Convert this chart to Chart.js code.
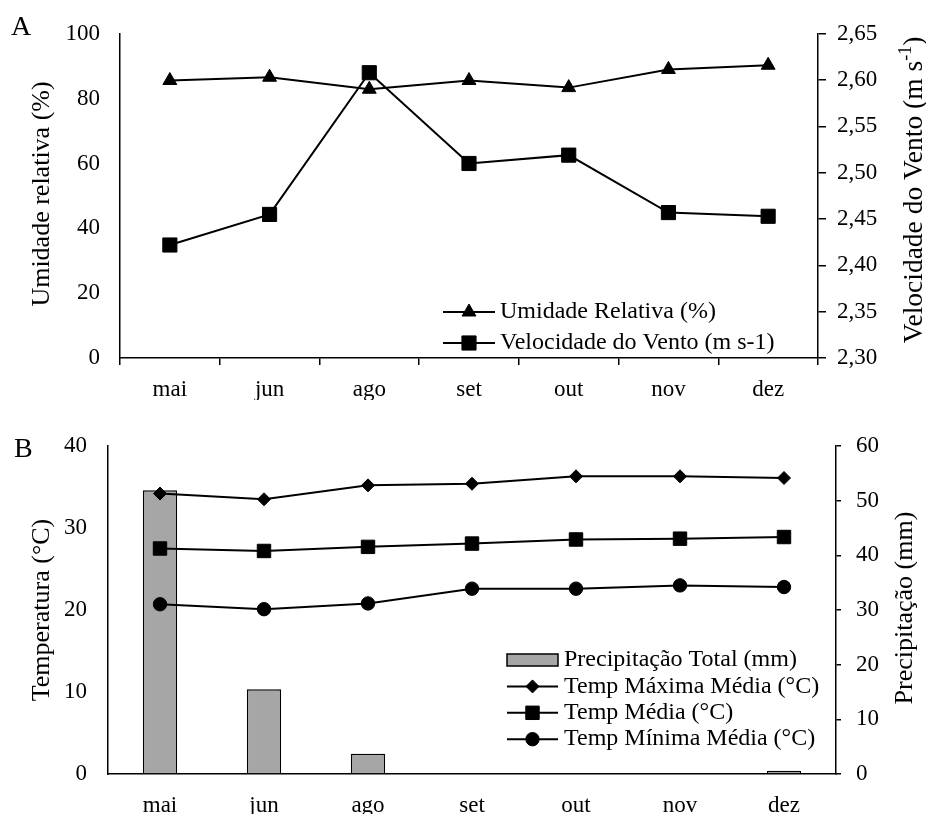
<!DOCTYPE html>
<html>
<head>
<meta charset="utf-8">
<script src="https://cdn.jsdelivr.net/npm/chart.js@4.4.1/dist/chart.umd.min.js"></script>
<style>
  body { margin: 0; background: #fff; }
  .box { position: absolute; left: 0; width: 926px; }
</style>
</head>
<body>
<div class="box" style="top:0;height:400px"><canvas id="chartA" width="926" height="400"></canvas></div>
<div class="box" style="top:400px;height:414px"><canvas id="chartB" width="926" height="414"></canvas></div>
<script>
const months = ['mai', 'jun', 'ago', 'set', 'out', 'nov', 'dez'];

// painel A
const umidade = [85.6, 86.6, 82.9, 85.6, 83.4, 89.0, 90.3];
const vento = [2.422, 2.455, 2.608, 2.510, 2.519, 2.457, 2.453];
const ticksUmidade = [0, 20, 40, 60, 80, 100];
const ticksVento = [2.30, 2.35, 2.40, 2.45, 2.50, 2.55, 2.60, 2.65];

// painel B
const precip = [51.9, 15.5, 3.7, 0, 0, 0, 0.6];
const tMax = [34.2, 33.5, 35.2, 35.4, 36.3, 36.3, 36.1];
const tMed = [27.5, 27.2, 27.7, 28.1, 28.6, 28.7, 28.9];
const tMin = [20.7, 20.1, 20.8, 22.6, 22.6, 23.0, 22.8];
const ticksTemp = [0, 10, 20, 30, 40];
const ticksPrecip = [0, 10, 20, 30, 40, 50, 60];

const serif = '"Liberation Serif", "Times New Roman", serif';
const tickFont = { family: serif, size: 23 };

function fixedTicks(arr) {
  return s => { s.ticks = arr.map(v => ({ value: v })); };
}

// texto rotacionado (lendo de baixo pra cima), com expoente opcional
function drawRotated(ctx, parts, cx, cy, size) {
  ctx.save();
  ctx.translate(cx, cy);
  ctx.rotate(-Math.PI / 2);
  ctx.textBaseline = 'middle';
  ctx.fillStyle = '#000';
  const fontOf = p => (p.sup ? Math.round(size * 0.66) : size) + 'px ' + serif;
  let total = 0;
  parts.forEach(p => { ctx.font = fontOf(p); total += ctx.measureText(p.text).width; });
  let x = -total / 2;
  parts.forEach(p => {
    ctx.font = fontOf(p);
    ctx.fillText(p.text, x, p.sup ? -size * 0.3 : 0);
    x += ctx.measureText(p.text).width;
  });
  ctx.restore();
}

const extras = {
  id: 'extras',
  afterDraw(chart, args, opts) {
    const ctx = chart.ctx;
    ctx.save();
    ctx.fillStyle = '#000';
    ctx.font = opts.letterSize + 'px ' + serif;
    ctx.textBaseline = 'alphabetic';
    ctx.fillText(opts.letter, opts.letterX, opts.letterY);

    opts.titles.forEach(t => drawRotated(ctx, t.parts, t.x, t.y, t.size));

    const lg = opts.legend;
    ctx.font = lg.size + 'px ' + serif;
    ctx.textBaseline = 'middle';
    chart.data.datasets.forEach((ds, i) => {
      const y = lg.y + i * lg.rowH;
      if (ds.type === 'bar') {
        ctx.fillStyle = ds.backgroundColor;
        ctx.fillRect(lg.x0, y - 6, lg.x1 - lg.x0, 12);
        ctx.strokeStyle = ds.borderColor;
        ctx.lineWidth = ds.borderWidth;
        ctx.strokeRect(lg.x0, y - 6, lg.x1 - lg.x0, 12);
      } else {
        ctx.strokeStyle = ds.borderColor;
        ctx.lineWidth = ds.borderWidth;
        ctx.beginPath();
        ctx.moveTo(lg.x0, y);
        ctx.lineTo(lg.x1, y);
        ctx.stroke();
        ctx.fillStyle = ds.pointBackgroundColor;
        ctx.strokeStyle = ds.pointBorderColor;
        ctx.lineWidth = ds.pointBorderWidth;
        Chart.helpers.drawPoint(ctx, {
          pointStyle: ds.pointStyle, radius: ds.pointRadius, rotation: 0, borderWidth: ds.pointBorderWidth
        }, (lg.x0 + lg.x1) / 2, y);
      }
      ctx.fillStyle = '#000';
      ctx.fillText(ds.label, lg.tx, y);
    });
    ctx.restore();
  }
};

function lineSet(label, data, style, radius, axis) {
  return {
    type: 'line', label: label, data: data, yAxisID: axis,
    borderColor: '#000', borderWidth: 2, tension: 0,
    pointStyle: style, pointRadius: radius, pointHoverRadius: radius,
    pointBackgroundColor: '#000', pointBorderColor: '#000', pointBorderWidth: 1,
    order: 0
  };
}

new Chart('chartA', {
  type: 'line',
  data: {
    labels: months,
    datasets: [
      lineSet('Umidade Relativa (%)', umidade, 'triangle', 8, 'y'),
      lineSet('Velocidade do Vento (m s-1)', vento, 'rect', 10, 'y2')
    ]
  },
  options: {
    responsive: false,
    animation: false,
    devicePixelRatio: 1,
    layout: { padding: { top: 30, left: 0, right: 0, bottom: 0 } },
    plugins: {
      legend: { display: false },
      tooltip: { enabled: false },
      extras: {
        letter: 'A', letterSize: 28, letterX: 11, letterY: 35,
        titles: [
          { parts: [{ text: 'Umidade relativa (%)' }], x: 42, y: 194, size: 26 },
          { parts: [{ text: 'Velocidade do Vento (m s' }, { text: '-1', sup: true }, { text: ')' }], x: 915, y: 190, size: 27.5 }
        ],
        legend: { x0: 443, x1: 495, tx: 500, y: 312, rowH: 31, size: 24 }
      }
    },
    scales: {
      x: {
        offset: true,
        grid: { offset: true, drawOnChartArea: false, drawTicks: true, tickLength: 7, color: '#000', lineWidth: 1.5 },
        border: { color: '#000', width: 1.5 },
        ticks: { color: '#000', font: tickFont, padding: 11, maxRotation: 0 },
        afterFit: s => { s.height = 42; }
      },
      y: {
        position: 'left', min: 0, max: 100,
        afterBuildTicks: fixedTicks(ticksUmidade),
        grid: { display: false, drawTicks: false },
        border: { color: '#000', width: 1.5 },
        ticks: { color: '#000', font: tickFont, padding: 20, autoSkip: false },
        afterFit: s => { s.width = 120; }
      },
      y2: {
        position: 'right', min: 2.30, max: 2.65,
        afterBuildTicks: fixedTicks(ticksVento),
        grid: { drawOnChartArea: false, drawTicks: true, tickLength: 8, color: '#000', lineWidth: 1.5 },
        border: { color: '#000', width: 1.5 },
        ticks: { color: '#000', font: tickFont, padding: 11, autoSkip: false,
          callback: v => v.toFixed(2).replace('.', ',') },
        afterFit: s => { s.width = 108; }
      }
    }
  },
  plugins: [extras]
});

new Chart('chartB', {
  type: 'bar',
  data: {
    labels: months,
    datasets: [
      {
        type: 'bar', label: 'Precipitação Total (mm)', data: precip, yAxisID: 'y2',
        backgroundColor: '#a6a6a6', borderColor: '#000', borderWidth: 1.5,
        categoryPercentage: 1, barPercentage: 0.33, order: 1
      },
      lineSet('Temp Máxima Média (°C)', tMax, 'rectRot', 6.5, 'y'),
      lineSet('Temp Média (°C)', tMed, 'rect', 9.5, 'y'),
      lineSet('Temp Mínima Média (°C)', tMin, 'circle', 6.7, 'y')
    ]
  },
  options: {
    responsive: false,
    animation: false,
    devicePixelRatio: 1,
    layout: { padding: { top: 46, left: 0, right: 0, bottom: 0 } },
    plugins: {
      legend: { display: false },
      tooltip: { enabled: false },
      extras: {
        letter: 'B', letterSize: 28, letterX: 14, letterY: 57,
        titles: [
          { parts: [{ text: 'Temperatura (°C)' }], x: 42, y: 210, size: 26 },
          { parts: [{ text: 'Precipitação (mm)' }], x: 905, y: 208, size: 26 }
        ],
        legend: { x0: 507, x1: 558, tx: 564, y: 260, rowH: 26.4, size: 24 }
      }
    },
    scales: {
      x: {
        offset: true,
        grid: { display: false, drawTicks: false },
        border: { color: '#000', width: 1.5 },
        ticks: { color: '#000', font: tickFont, padding: 18, maxRotation: 0 },
        afterFit: s => { s.height = 40; }
      },
      y: {
        position: 'left', min: 0, max: 40,
        afterBuildTicks: fixedTicks(ticksTemp),
        grid: { display: false, drawTicks: false },
        border: { color: '#000', width: 1.5 },
        ticks: { color: '#000', font: tickFont, padding: 21, autoSkip: false },
        afterFit: s => { s.width = 108; }
      },
      y2: {
        position: 'right', min: 0, max: 60,
        afterBuildTicks: fixedTicks(ticksPrecip),
        grid: { drawOnChartArea: false, drawTicks: true, tickLength: 5, color: '#000', lineWidth: 1.5 },
        border: { color: '#000', width: 1.5 },
        ticks: { color: '#000', font: tickFont, padding: 15, autoSkip: false },
        afterFit: s => { s.width = 90; }
      }
    }
  },
  plugins: [extras]
});
</script>
</body>
</html>
